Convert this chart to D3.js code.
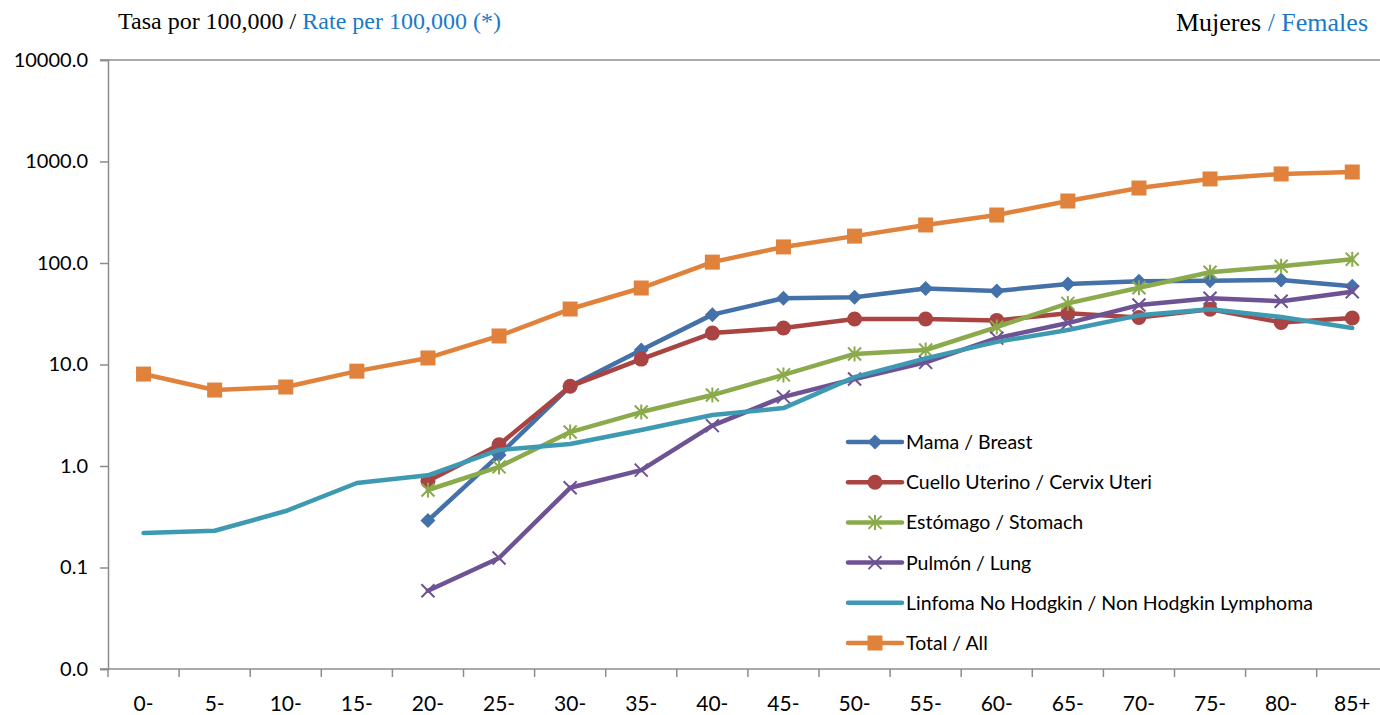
<!DOCTYPE html>
<html>
<head>
<meta charset="utf-8">
<script src="https://cdn.jsdelivr.net/npm/d3@7"></script>
<style>
  body { margin: 0; background: #fff; }
  svg { display: block; }
</style>
</head>
<body>
<div id="chart"></div>
<script>
// age groups on the x axis
const ageGroups = ["0-", "5-", "10-", "15-", "20-", "25-", "30-", "35-", "40-", "45-",
                   "50-", "55-", "60-", "65-", "70-", "75-", "80-", "85+"];

// rates per 100,000 (null = no data)
const breast = [null, null, null, null, 0.29, 1.28, 6.1, 13.9, 31, 45, 46, 56, 53, 62, 66, 67, 68, 59];
const cervix = [null, null, null, null, 0.71, 1.62, 6.1, 11.3, 20.4, 22.9, 28.1, 28.1, 27.2, 32, 29, 35, 26, 28.7];
const stomach = [null, null, null, null, 0.58, 0.98, 2.16, 3.4, 5.0, 7.9, 12.7, 13.9, 23.4, 40, 57, 81, 93, 109];
const lung = [null, null, null, null, 0.059, 0.124, 0.61, 0.91, 2.5, 4.8, 7.2, 10.5, 18.2, 25.6, 38.5, 45, 42, 52];
const nhl = [0.219, 0.23, 0.36, 0.68, 0.81, 1.44, 1.65, 2.26, 3.18, 3.72, 7.5, 11.5, 16.7, 21.9, 30.5, 35, 29.4, 22.9];
const total = [8.05, 5.6, 6.0, 8.6, 11.6, 19.1, 35.2, 56.7, 102, 144, 184, 237, 297, 408, 548, 673, 754, 788];

const yTicks = [0.01, 0.1, 1, 10, 100, 1000, 10000];

const series = [
  { name: "Mama / Breast", values: breast, color: "#4471a9", marker: "diamond" },
  { name: "Cuello Uterino / Cervix Uteri", values: cervix, color: "#aa4442", marker: "circle" },
  { name: "Estómago / Stomach", values: stomach, color: "#8aaa4b", marker: "star" },
  { name: "Pulmón / Lung", values: lung, color: "#6e5394", marker: "x" },
  { name: "Linfoma No Hodgkin / Non Hodgkin Lymphoma", values: nhl, color: "#3e9ab2", marker: "none" },
  { name: "Total / All", values: total, color: "#e0823b", marker: "square" }
];

const width = 1380, height = 715;
const margin = { top: 60, right: 0, bottom: 46, left: 108 };

const svg = d3.select("#chart").append("svg")
  .attr("width", width)
  .attr("height", height);

const x = d3.scaleBand()
  .domain(ageGroups)
  .range([margin.left, margin.left + 18 * 71.1]);

const y = d3.scaleLog()
  .domain([0.01, 10000])
  .range([height - margin.bottom, margin.top]);

const tickFont = "Lato, 'Open Sans', sans-serif";

// top border line
svg.append("line")
  .attr("x1", 100).attr("x2", 1380)
  .attr("y1", y(10000)).attr("y2", y(10000))
  .attr("stroke", "#8c8c8c").attr("stroke-width", 1.5);

// y axis
const yAxis = svg.append("g")
  .attr("transform", `translate(${margin.left},0)`)
  .call(d3.axisLeft(y).tickValues(yTicks).tickSize(8).tickPadding(12)
    .tickFormat(d => d < 0.05 ? "0.0" : d3.format(".1f")(d)));
yAxis.select(".domain").attr("stroke", "#8c8c8c").attr("stroke-width", 1.5);
yAxis.selectAll(".tick line").attr("stroke", "#8c8c8c").attr("stroke-width", 1.5);
yAxis.selectAll(".tick text")
  .attr("font-family", tickFont).attr("font-size", 20).attr("fill", "#000");

// x axis: ticks on band boundaries
const xAxisG = svg.append("g")
  .attr("transform", `translate(0,${height - margin.bottom})`);
xAxisG.append("line")
  .attr("x1", 100).attr("x2", 1380)
  .attr("stroke", "#8c8c8c").attr("stroke-width", 1.5);
xAxisG.selectAll("line.tk")
  .data(ageGroups)
  .join("line")
  .attr("class", "tk")
  .attr("x1", d => x(d)).attr("x2", d => x(d))
  .attr("y1", 0).attr("y2", 8)
  .attr("stroke", "#8c8c8c").attr("stroke-width", 1.5);
xAxisG.selectAll("text")
  .data(ageGroups)
  .join("text")
  .attr("x", d => x(d) + x.bandwidth() / 2)
  .attr("y", 42)
  .attr("text-anchor", "middle")
  .attr("font-family", tickFont)
  .attr("font-size", 21)
  .text(d => d);

// series lines
const line = d3.line()
  .defined(d => d != null)
  .x((d, i) => x(ageGroups[i]) + x.bandwidth() / 2)
  .y(d => y(d));

function drawMarker(g, type, color) {
  if (type === "diamond") {
    g.append("path").attr("d", "M0,-7.5L7.5,0L0,7.5L-7.5,0Z").attr("fill", color);
  } else if (type === "circle") {
    g.append("circle").attr("r", 7.5).attr("fill", color);
  } else if (type === "square") {
    g.append("rect").attr("x", -7.5).attr("y", -7.5).attr("width", 15).attr("height", 15).attr("fill", color);
  } else if (type === "star") {
    g.append("path").attr("d", "M-6.5,-6.5L6.5,6.5M-6.5,6.5L6.5,-6.5M0,-7.5L0,7.5")
      .attr("stroke", color).attr("stroke-width", 2).attr("fill", "none");
  } else if (type === "x") {
    g.append("path").attr("d", "M-6.5,-6.5L6.5,6.5M-6.5,6.5L6.5,-6.5")
      .attr("stroke", color).attr("stroke-width", 2).attr("fill", "none");
  }
}

series.forEach(s => {
  const g = svg.append("g");
  g.append("path")
    .datum(s.values)
    .attr("fill", "none")
    .attr("stroke", s.color)
    .attr("stroke-width", 4.5)
    .attr("stroke-linejoin", "round")
    .attr("stroke-linecap", "round")
    .attr("d", line);
  s.values.forEach((v, i) => {
    if (v == null) return;
    const m = g.append("g")
      .attr("transform", `translate(${x(ageGroups[i]) + x.bandwidth() / 2},${y(v)})`);
    drawMarker(m, s.marker, s.color);
  });
});

// legend
const legend = svg.append("g").attr("transform", "translate(848,442)");
series.forEach((s, i) => {
  const row = legend.append("g").attr("transform", `translate(0,${i * 40.2})`);
  row.append("line")
    .attr("x1", 0).attr("x2", 54)
    .attr("stroke", s.color).attr("stroke-width", 4.5).attr("stroke-linecap", "round");
  const m = row.append("g").attr("transform", "translate(27,0)");
  drawMarker(m, s.marker, s.color);
  row.append("text")
    .attr("x", 58).attr("y", 7)
    .attr("font-family", tickFont)
    .attr("font-size", 19.5)
    .text(s.name);
});

// header texts
const title = svg.append("text")
  .attr("x", 118).attr("y", 29)
  .attr("font-family", "'Liberation Serif', 'Times New Roman', serif")
  .attr("font-size", 24);
title.append("tspan").attr("fill", "#000").text("Tasa por 100,000 / ");
title.append("tspan").attr("fill", "#1a7ac8").text("Rate per 100,000 (*)");

const sex = svg.append("text")
  .attr("x", 1368).attr("y", 31)
  .attr("text-anchor", "end")
  .attr("font-family", "'Liberation Serif', 'Times New Roman', serif")
  .attr("font-size", 26);
sex.append("tspan").attr("fill", "#000").text("Mujeres ");
sex.append("tspan").attr("fill", "#1a7ac8").text("/ Females");
</script>
</body>
</html>
